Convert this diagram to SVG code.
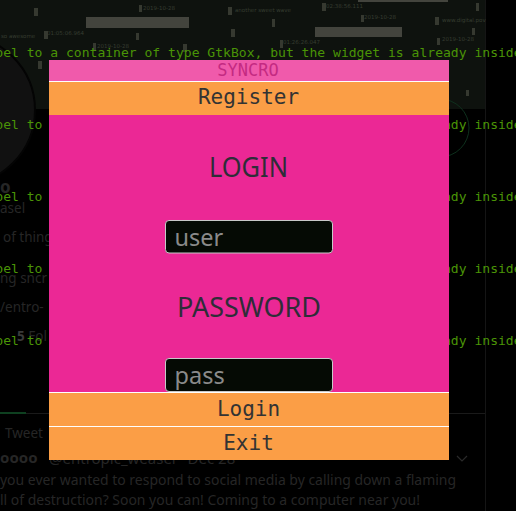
<svg xmlns="http://www.w3.org/2000/svg" width="516" height="511" viewBox="0 0 516 511">
<style>
.term{font-family:"DejaVu Sans Mono","Liberation Mono",monospace;font-size:13.05px;fill:#4a9406}
.tiny{font-family:"DejaVu Sans","Liberation Sans",sans-serif;font-size:5.5px;fill:#363d31}
.bar{fill:#43443d}
.tick{fill:#363930}
.bg{font-family:"Noto Sans","DejaVu Sans",sans-serif;fill:#262626}
.btn{font-family:"DejaVu Sans Mono","Liberation Mono",monospace;font-size:21px;fill:#333333;text-anchor:middle}
.head{font-family:"Noto Sans","DejaVu Sans",sans-serif;font-size:27px;fill:#2e2d38;text-anchor:middle}
.entry{fill:#050a04;stroke:#c8c8c8;stroke-width:1}
.hint{font-family:"Noto Sans","DejaVu Sans",sans-serif;font-size:23.5px;fill:#8a8a8a}
.sep{fill:#ffffff}
</style>
<!-- background screen -->
<rect x="0" y="0" width="516" height="511" fill="#000000"/>
<rect x="0" y="0" width="485" height="109" fill="#0e120e"/>
<circle cx="-40" cy="110" r="75" fill="#111111" stroke="#040404" stroke-width="2"/>
<circle cx="440" cy="128" r="29" fill="none" stroke="#0e301d" stroke-width="1"/>
<rect x="485" y="0" width="1" height="511" fill="#151515"/>
<rect x="449" y="413" width="36" height="1" fill="#1a1a1a"/>
<rect x="0" y="413" width="49" height="1" fill="#1a1a1a"/>
<rect x="0" y="412" width="26" height="2" fill="#0e4020"/>
<g>
<rect class="bar" x="86" y="17" width="103" height="11"/>
<rect class="bar" x="315" y="27" width="87" height="10"/>
<rect class="bar" x="358" y="0" width="90" height="2"/>
<rect class="tick" x="34" y="8" width="4" height="8"/>
<rect class="tick" x="139" y="5" width="3" height="7"/>
<rect class="tick" x="228" y="7" width="4" height="8"/>
<rect class="tick" x="272" y="19" width="3" height="8"/>
<rect class="tick" x="322" y="3" width="4" height="8"/>
<rect class="tick" x="361" y="15" width="3" height="7"/>
<rect class="tick" x="435" y="17" width="4" height="8"/>
<rect class="tick" x="476" y="3" width="3" height="8"/>
<rect class="tick" x="44" y="31" width="4" height="8"/>
<rect class="tick" x="136" y="33" width="3" height="7"/>
<rect class="tick" x="231" y="29" width="4" height="8"/>
<rect class="tick" x="280" y="40" width="3" height="8"/>
<rect class="tick" x="437" y="38" width="3" height="7"/>
<rect class="tick" x="472" y="28" width="3" height="7"/>
<rect class="tick" x="93" y="43" width="3" height="8"/>
<rect class="tick" x="183" y="44" width="4" height="8"/>
<rect class="tick" x="38" y="61" width="4" height="8"/>
<rect class="tick" x="466" y="90" width="3" height="6"/>
<text class="tiny" x="143" y="10">2019-10-28</text>
<text class="tiny" x="235" y="12">another sweet wave</text>
<text class="tiny" x="326" y="8">02:38:56.111</text>
<text class="tiny" x="364" y="19">2019-10-28</text>
<text class="tiny" x="442" y="22">www.digital.pov</text>
<text class="tiny" x="1" y="38">so awesome</text>
<text class="tiny" x="47" y="35">01:05:06.964</text>
<text class="tiny" x="97" y="48">2019-10-28</text>
<text class="tiny" x="283" y="44">01:26:26.047</text>
<text class="tiny" x="442" y="41">2019-10-28</text>
</g>
<g>
<text class="bg" x="0" y="193" font-size="17" font-weight="bold" fill="#3a3a3a">o</text>
<text class="bg" x="0" y="213" font-size="13.5">asel</text>
<text class="bg" x="3" y="242" font-size="13.5">of thing</text>
<text class="bg" x="0" y="283" font-size="13.5">ng sncr</text>
<text class="bg" x="0" y="312" font-size="13.5" fill="#163820">/entro-</text>
<text class="bg" x="17" y="341" font-size="13.5"><tspan font-weight="bold" fill="#3a3a3a">5</tspan> Fol</text>
<text class="bg" x="5" y="438" font-size="13.5" fill="#2e2e2e">Tweet</text>
<text class="bg" x="0" y="463" font-size="15" font-weight="bold" fill="#383838">oooo</text>
<text class="bg" x="49" y="464" font-size="15" fill="#202020">@entropic_weasel · Dec 28</text>
<path d="M457 456 L462 461 L467 456" fill="none" stroke="#2a2a2a" stroke-width="1.2"/>
<text class="bg" x="0" y="485" font-size="15" textLength="456" lengthAdjust="spacingAndGlyphs">you ever wanted to respond to social media by calling down a flaming</text>
<text class="bg" x="0" y="505" font-size="15" textLength="420" lengthAdjust="spacingAndGlyphs">ll of destruction? Soon you can! Coming to a computer near you!</text>
</g>
<g>
<text class="term" x="-44" y="57">GtkLabel to a container of type GtkBox, but the widget is already inside</text>
<text class="term" x="-44" y="129">GtkLabel to a container of type GtkBox, but the widget is already inside</text>
<text class="term" x="-44" y="201">GtkLabel to a container of type GtkBox, but the widget is already inside</text>
<text class="term" x="-44" y="273">GtkLabel to a container of type GtkBox, but the widget is already inside</text>
<text class="term" x="-44" y="345">GtkLabel to a container of type GtkBox, but the widget is already inside</text>
</g>
<!-- window -->
<g id="title">
<rect x="49" y="60" width="400" height="21" fill="#f05aab"/>
<text x="248" y="75.5" font-family="DejaVu Sans Mono, Liberation Mono, monospace" font-size="17" fill="#c42a82" text-anchor="middle">SYNCRO</text>
</g>
<rect class="sep" x="49" y="81" width="400" height="1"/>
<g id="register">
<rect x="49" y="82" width="400" height="33" fill="#fb9e46"/>
<text class="btn" x="248.5" y="104">Register</text>
</g>
<g id="body">
<rect x="49" y="115" width="400" height="277" fill="#eb2895"/>
<text class="head" x="248.5" y="177" textLength="79" lengthAdjust="spacingAndGlyphs">LOGIN</text>
<text class="head" x="249" y="317" textLength="144" lengthAdjust="spacingAndGlyphs">PASSWORD</text>
</g>
<g id="user">
<rect class="entry" x="165.5" y="220.5" width="167" height="32.5" rx="3.5"/>
<text class="hint" x="174.5" y="246">user</text>
</g>
<g id="pass">
<rect class="entry" x="165.5" y="358.5" width="167" height="33" rx="3.5"/>
<text class="hint" x="174.5" y="384">pass</text>
</g>
<rect class="sep" x="49" y="392" width="400" height="1"/>
<g id="login">
<rect x="49" y="393" width="400" height="33" fill="#fb9e46"/>
<text class="btn" x="248.5" y="415.5">Login</text>
</g>
<rect class="sep" x="49" y="426" width="400" height="1"/>
<g id="exit">
<rect x="49" y="427" width="400" height="33" fill="#fb9e46"/>
<text class="btn" x="248.5" y="449.5">Exit</text>
</g>
<g id="connectors"/>
</svg>
